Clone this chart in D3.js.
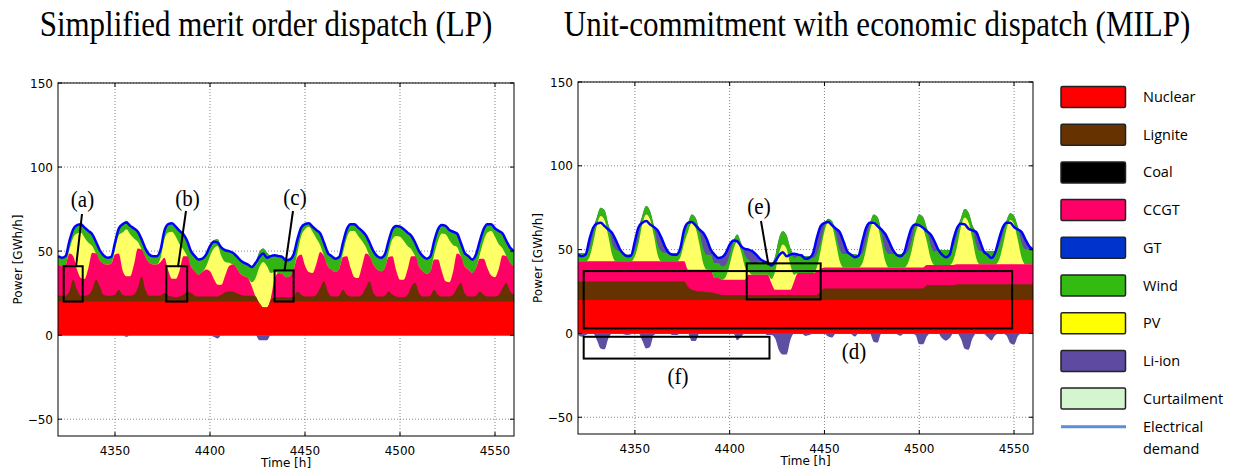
<!DOCTYPE html>
<html><head><meta charset="utf-8">
<script src="https://cdn.jsdelivr.net/npm/d3@7"></script>
<style>body{margin:0;background:#fff}</style>
</head><body>
<svg id="chart" width="1240" height="470"></svg>
<script>
// ---------------- DATA ----------------
const hours = [4320,4322,4324,4326,4328,4330,4332,4334,4336,4338,4340,4342,
4344,4346,4348,4350,4352,4354,4356,4358,4360,4362,4364,4366,
4368,4370,4372,4374,4376,4378,4380,4382,4384,4386,4388,4390,
4392,4394,4396,4398,4400,4402,4404,4406,4408,4410,4412,4414,
4416,4418,4420,4422,4424,4426,4428,4430,4432,4434,4436,4438,
4440,4442,4444,4446,4448,4450,4452,4454,4456,4458,4460,4462,
4464,4466,4468,4470,4472,4474,4476,4478,4480,4482,4484,4486,
4488,4490,4492,4494,4496,4498,4500,4502,4504,4506,4508,4510,
4512,4514,4516,4518,4520,4522,4524,4526,4528,4530,4532,4534,
4536,4538,4540,4542,4544,4546,4548,4550,4552,4554,4556,4558,4560];

const demand = [47,46,47,56,63,65.5,66,64,62,60,55.5,50.5,
47.5,46,46.5,55,63.5,66,67,65,63.5,61.5,57,51.5,
48,47,47,51,62,66,66.5,64.5,62,60,56,50,
47,45,45.5,48,53,55.5,55,52,50.5,50,49,47,
44.5,43,42,40.5,43,46.5,48.5,46,47,47.5,47,46.5,
44.5,45,48,57,64,66,66.5,64.5,62.5,60.5,55,49,
47,45.5,46.5,55,63,66,66,64,62,59.5,55,50,
47,46,48,56,63,65,64.5,63,61,59,55,50,
47,45.5,47,56,63,65.5,65,62.5,61.5,60.5,55,49,
47,45,48,56,63,66,66,63.5,62,60.5,56,52,50];

const pv = [0,0,0,2.5,11,21.5,27,24.5,15,4,0,0,
0,0,0,3,11,22.5,28,25,15.5,4,0,0,
0,0,0,2.5,11,22.5,28,25,15.5,4,0,0,
0,0,0,2,9,18,23,17,8,2,0,0,
0,0,0,2.5,11,21.5,27,24.5,15,4,0,0,
0,0,0,2.5,11,21.5,27,24.5,15,4,0,0,
0,0,0,2.5,11,22,27.5,25,15,4,0,0,
0,0,0,2.5,10,20.5,25.5,23,14,4,0,0,
0,0,0,3,11,22.5,28,25,15.5,4,0,0,
0,0,0,2.5,10.5,21,26.5,24,14.5,4,0,0,0];

const wind = [5,5,5,5,5,5,5,6,7,7,7,6,
5,4,4,4,4,5,5,5,6,6,6,5,
5,5,5,5,5,5,5,6,8,9,9,9,
9,9,8,7,6,5,4,5,7,7,7,7,
8,8,8,9,9,9,8,8,10,10,10,10,
10,10,9,8,5,3,2,3,5,7,8,8,
8,8,7,6,5,4,4,5,6,7,8,8,
8,8,8,7,6,6,6,7,8,8,8,9,
9,9,9,8,7,5,5,6,8,8,8,8,
8,8,8,8,7,5,4,5,8,9,9,9,9];

// LP (simplified merit order)
const lpNuclear = [20,20,20,20,20,20,20,20,20,20,20,20,
20,20,20,20,20,20,20,20,20,20,20,20,
20,20,20,20,20,20,20,20,20,20,20,20,
20,20,20,20,20,20,20,20,20,20,20,20,
20,20,20,20,20,19,16.5,16.5,19.5,20,20,20,
20,20,20,20,20,20,20,20,20,20,20,20,
20,20,20,20,20,20,20,20,20,20,20,20,
20,20,20,20,20,20,20,20,20,20,20,20,
20,20,20,20,20,20,20,20,20,20,20,20,
20,20,20,20,20,20,20,20,20,20,20,20,20];

const lpLignite = [3.5,3.5,3.5,6,13,7,3.5,3.5,4,7,13,9,
4,3.5,3.5,4,7,4,3.5,3.5,4,8,15,7,
3.5,3.5,3.5,3.5,5,3.5,3,2.5,3,4,6,5,
3.5,3,3,3,3,3,3,4,5.5,6,6,5,
4,3.5,3.5,3.5,3,0,0,0,1,2.5,2.5,2.5,
2.5,2.5,3,6,4,3,3,3,4,8,12,6,
3,3,3.5,7,4,3,3,3,4,8,12,5,
3,3,3.5,6,4,3,2.5,2.5,4,9,11,5,
3,3,3.5,7,4,3,3,3,4,8,11,5,
3,3,3.5,6,4,3,3,3,4,8,11,6,4];

const lpCCGT = [18.5,17.5,18.5,22.5,14,12,10.5,10,16,22,15.5,15.5,
18.5,18.5,19,24,21.5,14.5,11.5,11.5,18,23.5,16,19.5,
19.5,18.5,18.5,20,21,15,10.5,11,15.5,23,21,16,
14.5,13,14.5,16,15,10.5,7,6,10,15,16,15,
12.5,11.5,10.5,5.5,0,0,0,0,1.5,11,14.5,14,
12,12.5,16,20.5,24,18.5,14.5,14,18.5,21.5,15,15,
16,14.5,16,19.5,23,17,11.5,11,17,20.5,15,17,
16,15,16.5,20.5,23,15.5,10.5,10.5,15,18,16,16,
15,13.5,14.5,18,21,15,9,8.5,14,20.5,16,16,
16,14,16.5,19.5,21.5,17,12.5,11.5,15.5,19.5,16,17,17];

const lpLiion = [0,0,0,0,0,0,0,0,0,0,0,0,
0,0,0,0,0,0,-1,0,0,0,0,0,
0,0,0,0,0,0,0,0,0,0,0,0,
0,0,0,0,0,-1,-2,0,0,0,0,0,
0,0,0,0,0,-3,-3,-3,0,0,0,0,
0,0,0,0,0,0,0,0,0,0,0,0,
0,0,0,0,0,0,0,0,0,0,0,0,
0,0,0,0,0,0,0,0,0,0,0,0,
0,0,0,0,0,0,0,0,0,0,0,0,
0,0,0,0,0,0,0,0,0,0,0,0,0];

// MILP (unit commitment with economic dispatch)
const milpNuclear = [20,20,20,20,20,20,20,20,20,20,20,20,
20,20,20,20,20,20,20,20,20,20,20,20,
20,20,20,20,20,20,20,20,20,20,20,20,
20,20,20,20,20,20,20,20,20,20,20,20,
20,20,20,20,20,20,20,20,20,20,20,20,
20,20,20,20,20,20,20,20,20,20,20,20,
20,20,20,20,20,20,20,20,20,20,20,20,
20,20,20,20,20,20,20,20,20,20,20,20,
20,20,20,20,20,20,20,20,20,20,20,20,
20,20,20,20,20,20,20,20,20,20,20,20,20];

const milpLignite = [11,11,11,11,11,11,11,11,11,11,11,11,
11,11,11,11,11,11,11,11,11,11,11,11,
11,11,11,11,11,8,6,5.5,5,5,4.5,4.5,
4,3.5,3,3,3,3,3,3,3,3,3,3,
3,3,3,3,3,3,3,3,3,3,3,3,
3,3,3,3,5,6.8,6.8,6.8,6.8,6.8,6.8,6.8,
6.8,6.8,6.8,6.8,6.8,6.8,6.8,6.8,6.8,6.8,6.8,6.8,
6.8,6.8,6.8,6.8,6.8,6.8,6.8,6.8,8.8,8.8,8.8,8.8,
8.8,8.8,8.8,8.8,9.4,9.4,9.4,9.4,9.4,9.4,9.4,9.4,
9.4,9.4,9.4,9.4,9.4,9.4,9.4,9.4,9.4,9.4,9.4,9.4,9.4];

const milpCCGT = [12,12,12,12,12,12,12,12,12,12,12,12,
12,12,12,12,12,12,12,12,12,12,12,12,
12,12,12,12,12,10,12,12.5,13,13,13.5,13.5,
9,9.5,9,9,9,9,9,9,9,12,12,12,
12,12,12,7,3,3,3,3,3,8,13,13,
13,13,13,14,13.5,12.6,12.6,12.6,12.6,12.6,12.6,12.6,
12.6,12.6,12.6,12.6,12.6,12.6,12.6,12.6,12.6,12.6,12.6,12.6,
12.6,12.6,12.6,12.6,12.6,12.6,12.6,12.6,12,12,12,12,
12,12,12,12,11.8,11.8,11.8,11.8,11.8,11.8,11.8,11.8,
11.8,11.8,11.8,11.8,11.8,11.8,11.8,11.8,11.8,11.8,11.8,11.8,11.8];

const milpLiion = [-1,-2,-1,5.5,4,-4,-9,-9.5,-3,6,5.5,1.5,
-0.5,-1,-0.5,5,5.5,-4.5,-9,-8,-1,8.5,8,3.5,
0,-1,-1,0.5,3,0.5,-4.5,-4.5,0.5,9,9,3,
5,3,5.5,7,6,0.5,-4,-2,3.5,6,7,5,
1.5,0,-1,-1,-3,-10,-12.5,-12.5,-4,2.5,1,0.5,
-1.5,-1,3,9.5,9.5,2.1,-1.9,-2.4,3.1,10.1,7.6,1.6,
-0.4,-1.9,0.1,7.1,7.6,0.6,-4.9,-5.4,1.6,9.1,7.6,2.6,
-0.4,-1.4,0.6,7.1,7.6,-0.9,-6.4,-6.4,-1.8,6.2,6.2,0.2,
-2.8,-4.3,-2.8,4.2,3.8,-3.2,-9.2,-9.7,-3.2,7.3,5.8,-0.2,
-2.2,-4.2,-1.2,4.3,4.3,-1.2,-5.7,-6.7,-1.7,6.3,5.8,1.8,-0.2];

const xTicks = [4350,4400,4450,4500,4550];
const yTicks = [-50,0,50,100,150];
const titles = ["Simplified merit order dispatch (LP)", "Unit-commitment with economic dispatch (MILP)"];
const legendLabels = ["Nuclear","Lignite","Coal","CCGT","GT","Wind","PV","Li-ion","Curtailment"];
const legendColors = ["#ff0000","#663300","#000000","#ff0066","#0033cc","#33bb11","#ffff00","#5e4aa0","#d5f5d0"];

// annotation boxes in data units [label, h0, h1, v0, v1]
const lpBoxes = [["(a)",4323,4333,20,41],["(b)",4377,4388,20,41],["(c)",4434,4444,20,38.5]];
const milpBoxes = [["(d)",4323,4549,3,37.2],["(e)",4409,4448,20.3,41.8],["(f)",4323,4421,-15,-2]];

// ---------------- DRAW ----------------
const svg = d3.select("#chart");
const fill = {nuclear:"#ff0000", lignite:"#663300", ccgt:"#ff0066", pv:"#ffff66", wind:"#33b314", liPos:"#5e4fa2"};
const keys = ["nuclear","lignite","ccgt","pv","wind","liPos"];
const serif = "Liberation Serif, Times New Roman, serif";

function drawPanel(id, cfg, nuc, lig, ccgt, li) {
  const g = svg.append("g");
  const x = d3.scaleLinear().domain([4320,4560]).range([cfg.x0,cfg.x1]);
  const y = d3.scaleLinear().domain([-60,150]).range([cfg.y1,cfg.y0]);
  cfg.x = x; cfg.y = y;

  g.append("clipPath").attr("id","clip"+id).append("rect")
    .attr("x",cfg.x0).attr("y",cfg.y0).attr("width",cfg.x1-cfg.x0).attr("height",cfg.y1-cfg.y0);

  // grid
  const grid = g.append("g").attr("stroke","#666").attr("stroke-width",0.8).attr("stroke-dasharray","1,2");
  xTicks.forEach(t => grid.append("line").attr("x1",x(t)).attr("x2",x(t)).attr("y1",cfg.y0).attr("y2",cfg.y1));
  yTicks.forEach(t => grid.append("line").attr("y1",y(t)).attr("y2",y(t)).attr("x1",cfg.x0).attr("x2",cfg.x1));

  const rows = hours.map((h,i) => ({nuclear:nuc[i], lignite:lig[i], ccgt:ccgt[i], pv:pv[i], wind:wind[i], liPos:Math.max(li[i],0)}));
  const stacked = d3.stack().keys(keys)(rows);
  const plot = g.append("g").attr("clip-path","url(#clip"+id+")");
  for (let k = keys.length-1; k >= 0; k--) {
    const area = d3.area().x((d,i)=>x(hours[i])).y0(y(0)).y1(d=>y(d[1])).curve(d3.curveMonotoneX);
    plot.append("path").datum(stacked[k]).attr("d",area).attr("fill",fill[keys[k]]);
  }
  const negArea = d3.area().x((d,i)=>x(hours[i])).y0(y(0)).y1(d=>y(Math.min(d,0))).curve(d3.curveMonotoneX);
  plot.append("path").datum(li).attr("d",negArea).attr("fill",fill.liPos);

  const line = d3.line().x((d,i)=>x(hours[i])).y(d=>y(d)).curve(d3.curveMonotoneX);
  plot.append("path").datum(demand).attr("d",line).attr("fill","none").attr("stroke","#0000ff").attr("stroke-width",2.5).attr("stroke-linejoin","round");

  // frame
  g.append("rect").attr("x",cfg.x0).attr("y",cfg.y0).attr("width",cfg.x1-cfg.x0).attr("height",cfg.y1-cfg.y0)
    .attr("fill","none").attr("stroke","#000").attr("stroke-width",1);
  // ticks (inward)
  const tk = g.append("g").attr("stroke","#000").attr("stroke-width",1);
  xTicks.forEach(t => {
    tk.append("line").attr("x1",x(t)).attr("x2",x(t)).attr("y1",cfg.y1).attr("y2",cfg.y1-4);
    tk.append("line").attr("x1",x(t)).attr("x2",x(t)).attr("y1",cfg.y0).attr("y2",cfg.y0+4);
  });
  yTicks.forEach(t => {
    tk.append("line").attr("y1",y(t)).attr("y2",y(t)).attr("x1",cfg.x0).attr("x2",cfg.x0+4);
    tk.append("line").attr("y1",y(t)).attr("y2",y(t)).attr("x1",cfg.x1).attr("x2",cfg.x1-4);
  });
  const lab = g.append("g").attr("font-family","DejaVu Sans, sans-serif").attr("font-size",12).attr("fill","#000");
  xTicks.forEach(t => lab.append("text").attr("x",x(t)).attr("y",cfg.y1+18.5).attr("text-anchor","middle").text(t));
  yTicks.forEach(t => lab.append("text").attr("x",cfg.x0-5).attr("y",y(t)+4.5).attr("text-anchor","end")
    .text(t < 0 ? "\u2212" + Math.abs(t) : t));
  lab.append("text").attr("x",(cfg.x0+cfg.x1)/2).attr("y",cfg.y1+30.5).attr("text-anchor","middle").text("Time [h]");
  lab.append("text").attr("transform",`translate(${cfg.ylabX},${(cfg.y0+cfg.y1)/2}) rotate(-90)`)
    .attr("text-anchor","middle").text("Power [GWh/h]");

  // title (slightly tall, as in the reference)
  svg.append("text").attr("transform",`translate(${cfg.titleX},36) scale(1,1.15)`).attr("text-anchor","middle")
    .attr("font-family",serif).attr("font-size",31).text(cfg.title);
  return g;
}

const L = {x0:58, x1:514, y0:83, y1:436, ylabX:22, titleX:266, title:titles[0]};
const R = {x0:578, x1:1033, y0:82, y1:434, ylabX:542, titleX:877, title:titles[1]};
const gL = drawPanel("L", L, lpNuclear, lpLignite, lpCCGT, lpLiion);
const gR = drawPanel("R", R, milpNuclear, milpLignite, milpCCGT, milpLiion);

function boxes(g, cfg, list) {
  list.forEach(b => {
    g.append("rect").attr("x",cfg.x(b[1])).attr("y",cfg.y(b[4]))
      .attr("width",cfg.x(b[2])-cfg.x(b[1])).attr("height",cfg.y(b[3])-cfg.y(b[4]))
      .attr("fill","none").attr("stroke","#000").attr("stroke-width",2);
  });
}
boxes(gL, L, lpBoxes);
boxes(gR, R, milpBoxes);

const ann = svg.append("g").attr("font-family",serif).attr("font-size",21).attr("text-anchor","middle");
const annLines = svg.append("g").attr("stroke","#000").attr("stroke-width",2);
[["(a)",82.5,207,[82,214,76,267]],["(b)",187.5,206,[186,211,178,267]],["(c)",295,205,[293,211,284.5,271]],
 ["(e)",759,214,[761,221,768.5,265]],["(d)",854,359,null],["(f)",678,384,null]].forEach(a => {
  ann.append("text").attr("transform",`translate(${a[1]},${a[2]}) scale(1,1.12)`).text(a[0]);
  if (a[3]) annLines.append("line").attr("x1",a[3][0]).attr("y1",a[3][1]).attr("x2",a[3][2]).attr("y2",a[3][3]);
});

// legend
const lg = svg.append("g").attr("font-family","Open Sans, Liberation Sans, sans-serif").attr("font-size",14.5);
legendLabels.forEach((l,i) => {
  const top = 86.5 + i*37.7;
  lg.append("rect").attr("x",1061).attr("y",top).attr("width",64.5).attr("height",21).attr("rx",1.5)
    .attr("fill",legendColors[i]).attr("stroke","#222").attr("stroke-width",1.5);
  lg.append("text").attr("x",1143).attr("y",top+15.5).text(l);
});
lg.append("line").attr("x1",1061).attr("x2",1126).attr("y1",426.7).attr("y2",426.7).attr("stroke","#5b8fd5").attr("stroke-width",3);
lg.append("text").attr("x",1143).attr("y",432).text("Electrical");
lg.append("text").attr("x",1143).attr("y",453.5).text("demand");
</script>
</body></html>
